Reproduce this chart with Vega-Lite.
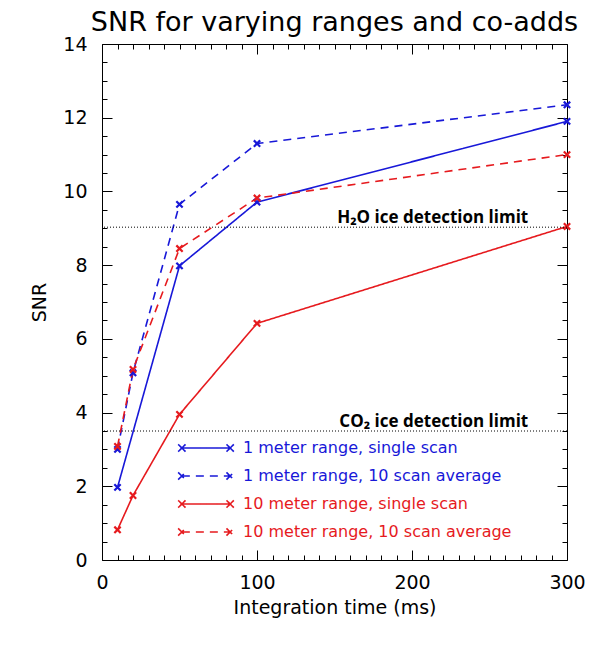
{
  "$schema": "https://vega.github.io/schema/vega-lite/v6.json",
  "width": 465,
  "height": 516,
  "autosize": "none",
  "padding": {"left": 102, "top": 44, "right": 24, "bottom": 107},
  "background": "white",
  "title": {
    "text": "SNR for varying ranges and co-adds",
    "font": "DejaVu Sans",
    "fontSize": 27,
    "fontWeight": "normal",
    "color": "black",
    "anchor": "middle",
    "baseline": "alphabetic",
    "frame": "group",
    "offset": 13,
    "dy": 36
  },
  "config": {
    "view": {"stroke": "black", "strokeWidth": 1},
    "axis": {
      "domain": false,
      "tickColor": "black",
      "tickWidth": 1,
      "grid": false,
      "labelFont": "DejaVu Sans",
      "labelFontSize": 19,
      "labelColor": "black",
      "titleFont": "DejaVu Sans",
      "titleFontSize": 19,
      "titleFontWeight": "normal",
      "titleColor": "black",
      "labelOverlap": false,
      "labelFlush": false,
      "minExtent": 0
    }
  },
  "datasets": {
    "snr": [
      {"series": "1 meter range, single scan", "time": 10, "snr": 1.97},
      {"series": "1 meter range, single scan", "time": 50, "snr": 7.98},
      {"series": "1 meter range, single scan", "time": 100, "snr": 9.71},
      {"series": "1 meter range, single scan", "time": 300, "snr": 11.9},
      {"series": "1 meter range, 10 scan average", "time": 10, "snr": 3.0},
      {"series": "1 meter range, 10 scan average", "time": 20, "snr": 5.08},
      {"series": "1 meter range, 10 scan average", "time": 50, "snr": 9.65},
      {"series": "1 meter range, 10 scan average", "time": 100, "snr": 11.3},
      {"series": "1 meter range, 10 scan average", "time": 300, "snr": 12.35},
      {"series": "10 meter range, single scan", "time": 10, "snr": 0.82},
      {"series": "10 meter range, single scan", "time": 20, "snr": 1.75},
      {"series": "10 meter range, single scan", "time": 50, "snr": 3.95},
      {"series": "10 meter range, single scan", "time": 100, "snr": 6.42},
      {"series": "10 meter range, single scan", "time": 300, "snr": 9.05},
      {"series": "10 meter range, 10 scan average", "time": 10, "snr": 3.08},
      {"series": "10 meter range, 10 scan average", "time": 20, "snr": 5.17},
      {"series": "10 meter range, 10 scan average", "time": 50, "snr": 8.45},
      {"series": "10 meter range, 10 scan average", "time": 100, "snr": 9.82},
      {"series": "10 meter range, 10 scan average", "time": 300, "snr": 11.0}
    ],
    "limits": [
      {"label": "H₂O ice detection limit", "snr": 9.03, "time": 275},
      {"label": "CO₂ ice detection limit", "snr": 3.5, "time": 275}
    ]
  },
  "layer": [
    {
      "data": {"name": "snr"},
      "mark": {"type": "line", "strokeWidth": 1.6},
      "encoding": {
        "x": {
          "field": "time", "type": "quantitative",
          "scale": {"domain": [0, 300], "nice": false, "zero": false},
          "axis": {
            "orient": "bottom",
            "title": "Integration time (ms)",
            "values": [0, 100, 200, 300],
            "format": "d",
            "offset": -10,
            "tickSize": 10,
            "labelPadding": 13,
            "titlePadding": 6
          }
        },
        "y": {
          "field": "snr", "type": "quantitative",
          "scale": {"domain": [0, 14], "nice": false},
          "axis": {
            "orient": "left",
            "title": "SNR",
            "values": [0, 2, 4, 6, 8, 10, 12, 14],
            "format": "d",
            "offset": -10,
            "tickSize": 10,
            "labelPadding": 15,
            "titlePadding": 13
          }
        },
        "color": {
          "field": "series", "type": "nominal",
          "scale": {
            "domain": ["1 meter range, single scan", "1 meter range, 10 scan average", "10 meter range, single scan", "10 meter range, 10 scan average"],
            "range": ["#1818d8", "#1818d8", "#e61a1e", "#e61a1e"]
          },
          "legend": {
            "orient": "none",
            "legendX": 96,
            "legendY": 396,
            "title": null,
            "symbolType": "M-3.6,0L3.6,0M-4.15,-0.55L-3.05,0.55M-4.15,0.55L-3.05,-0.55M3.05,-0.55L4.15,0.55M3.05,0.55L4.15,-0.55",
            "symbolSize": 180,
            "symbolStrokeWidth": 1.6,
            "symbolOffset": 0,
            "labelOffset": 29,
            "labelFont": "DejaVu Sans",
            "labelFontSize": 16,
            "labelLimit": 400,
            "rowPadding": 12,
            "encode": {"labels": {"update": {"fill": {"scale": "color", "field": "value"}}}}
          }
        },
        "strokeDash": {
          "field": "series", "type": "nominal",
          "scale": {
            "domain": ["1 meter range, single scan", "1 meter range, 10 scan average", "10 meter range, single scan", "10 meter range, 10 scan average"],
            "range": [[1, 0], [8, 6], [1, 0], [8, 6]]
          }
        }
      }
    },
    {
      "data": {"name": "snr"},
      "mark": {"type": "point", "shape": "M-1,-1L1,1M-1,1L1,-1", "filled": false, "size": 40, "strokeWidth": 2.2, "opacity": 1},
      "encoding": {
        "x": {
          "field": "time", "type": "quantitative",
          "axis": {"orient": "top", "title": null, "labels": false, "values": [0, 100, 200, 300], "offset": -10, "tickSize": 10, "maxExtent": 0}
        },
        "y": {
          "field": "snr", "type": "quantitative",
          "axis": {"orient": "right", "title": null, "labels": false, "values": [0, 2, 4, 6, 8, 10, 12, 14], "offset": -10, "tickSize": 10, "maxExtent": 0}
        },
        "color": {"field": "series", "type": "nominal", "legend": null}
      }
    },
    {
      "data": {"name": "limits"},
      "mark": {"type": "rule", "color": "black", "strokeWidth": 1, "strokeDash": [1, 2]},
      "encoding": {
        "y": {
          "field": "snr", "type": "quantitative",
          "axis": {"orient": "right", "title": null, "labels": false, "values": [1,3,5,7,9,11,13,0.5,1.5,2.5,3.5,4.5,5.5,6.5,7.5,8.5,9.5,10.5,11.5,12.5,13.5], "offset": -5, "tickSize": 5, "maxExtent": 0}
        }
      }
    },
    {
      "data": {"name": "limits"},
      "mark": {"type": "text", "font": "Open Sans", "fontWeight": "bold", "fontSize": 17, "align": "right", "baseline": "alphabetic", "dy": -4, "color": "black"},
      "encoding": {
        "x": {
          "field": "time", "type": "quantitative",
          "axis": {"orient": "bottom", "title": null, "labels": false, "values": [10,20,30,40,50,60,70,80,90,110,120,130,140,150,160,170,180,190,210,220,230,240,250,260,270,280,290], "offset": -5, "tickSize": 5, "maxExtent": 0}
        },
        "y": {
          "field": "snr", "type": "quantitative",
          "axis": {"orient": "left", "title": null, "labels": false, "values": [1,3,5,7,9,11,13,0.5,1.5,2.5,3.5,4.5,5.5,6.5,7.5,8.5,9.5,10.5,11.5,12.5,13.5], "offset": -5, "tickSize": 5, "maxExtent": 0}
        },
        "text": {"field": "label"}
      }
    },
    {
      "data": {"name": "limits"},
      "mark": {"type": "point", "opacity": 0},
      "encoding": {
        "x": {
          "field": "time", "type": "quantitative",
          "axis": {"orient": "top", "title": null, "labels": false, "values": [10,20,30,40,50,60,70,80,90,110,120,130,140,150,160,170,180,190,210,220,230,240,250,260,270,280,290], "offset": -5, "tickSize": 5, "maxExtent": 0}
        },
        "y": {"field": "snr", "type": "quantitative", "axis": null}
      }
    }
  ],
  "resolve": {"axis": {"x": "independent", "y": "independent"}}
}
